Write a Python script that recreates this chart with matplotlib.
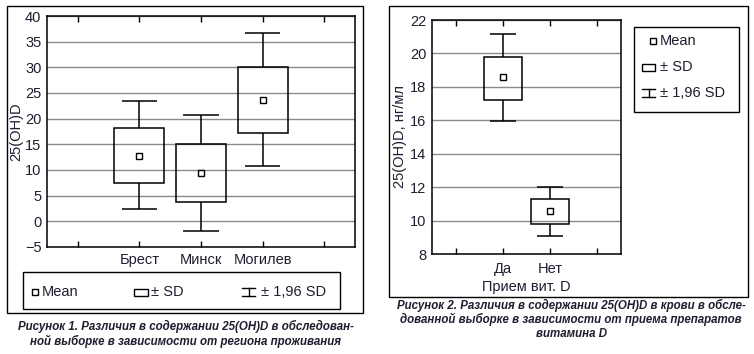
import matplotlib
matplotlib.use("Agg")
import matplotlib.pyplot as plt
from matplotlib.patches import Rectangle
from matplotlib.lines import Line2D

# ---- data ----
regions = ["Брест", "Минск", "Могилев"]
reg_mean = [12.7, 9.4, 23.7]
reg_sd_lo = [7.45, 3.75, 17.2]
reg_sd_hi = [18.15, 15.0, 30.15]
reg_ci_lo = [2.4, -1.8, 10.8]
reg_ci_hi = [23.4, 20.7, 36.6]
reg_yticks = [-5, 0, 5, 10, 15, 20, 25, 30, 35, 40]

vit = ["Да", "Нет"]
vit_mean = [18.58, 10.57]
vit_sd_lo = [17.22, 9.79]
vit_sd_hi = [19.81, 11.29]
vit_ci_lo = [15.95, 9.08]
vit_ci_hi = [21.15, 12.0]
vit_yticks = [8, 10, 12, 14, 16, 18, 20, 22]

legend_labels = ["Mean", "± SD", "± 1,96 SD"]
cap1 = ["Рисунок 1. Различия в содержании 25(OH)D в обследован-",
        "ной выборке в зависимости от региона проживания"]
cap2 = ["Рисунок 2. Различия в содержании 25(OH)D в крови в обсле-",
        "дованной выборке в зависимости от приема препаратов",
        "витамина D"]

TXT = "#1e1e30"
plt.rcParams['font.family'] = ['Liberation Sans', 'DejaVu Sans']

W, H = 754, 354
fig = plt.figure(figsize=(W / 100, H / 100), dpi=100)


def fx(px):
    return px / W


def fy(py):
    return 1 - py / H


def frame(x0, y0, x1, y1, lw=1.0):
    fig.add_artist(Rectangle((fx(x0), fy(y1)), fx(x1) - fx(x0), fy(y0) - fy(y1),
                             transform=fig.transFigure, fill=False, ec="black", lw=lw))


def boxchart(ax, cats, mean, lo, hi, clo, chi, boxw, capw):
    xs = [i + 2 for i in range(len(cats))]
    for x, m, l, h, cl, ch in zip(xs, mean, lo, hi, clo, chi):
        ax.add_patch(Rectangle((x - boxw / 2, l), boxw, h - l, fill=False, ec="black", lw=1.1, zorder=3))
        ax.vlines(x, h, ch, color="black", lw=1.1, zorder=3)
        ax.vlines(x, cl, l, color="black", lw=1.1, zorder=3)
        ax.hlines([ch, cl], x - capw / 2, x + capw / 2, color="black", lw=1.1, zorder=3)
        ax.plot([x], [m], marker="s", ms=4.2, mfc="white", mec="black", mew=1.0, zorder=4)
    return xs


def style(ax, cats, xs, yticks, nx):
    ax.set_xlim(0.5, nx + 0.5)
    ax.set_ylim(yticks[0], yticks[-1])
    ax.set_yticks(yticks)
    ax.set_xticks(list(range(1, nx + 1)))
    labels = [""] * nx
    for c, x in zip(cats, xs):
        labels[x - 1] = c
    ax.set_xticklabels(labels)
    ax.tick_params(axis="x", direction="in", top=True, bottom=True, length=4, width=1, pad=4,
                   labelsize=10.5, labelcolor=TXT)
    ax.tick_params(axis="y", length=0, pad=4, labelsize=10.5, labelcolor=TXT)
    ax.grid(axis="y", color="#8a8a8a", lw=1.0, zorder=1)
    ax.set_axisbelow(True)
    for s in ax.spines.values():
        s.set_linewidth(1.1)


# ---- panel 1 ----
ax1 = fig.add_axes([fx(47), fy(247), fx(355) - fx(47), fy(16) - fy(247)])
xs1 = boxchart(ax1, regions, reg_mean, reg_sd_lo, reg_sd_hi, reg_ci_lo, reg_ci_hi, 0.81, 0.58)
style(ax1, regions, xs1, reg_yticks, 5)
ax1.set_ylabel("25(OH)D", fontsize=10.5, color=TXT, labelpad=1)

frame(7, 6, 363, 313)
frame(23, 272, 340, 309)

# legend 1 (horizontal)
ly = 292
fig.add_artist(Line2D([fx(35)], [fy(ly)], marker="s", ms=4.2, mfc="white", mec="black", mew=1.0,
                      transform=fig.transFigure))
fig.text(fx(42), fy(ly), legend_labels[0], fontsize=10.5, color=TXT, va="center")
fig.add_artist(Rectangle((fx(134), fy(ly + 3.5)), fx(148) - fx(134), fy(ly - 3.5) - fy(ly + 3.5),
                         transform=fig.transFigure, fill=False, ec="black", lw=1.0))
fig.text(fx(151), fy(ly), legend_labels[1], fontsize=10.5, color=TXT, va="center")
fig.add_artist(Line2D([fx(242), fx(255)], [fy(ly - 4)] * 2, color="black", lw=1.0, transform=fig.transFigure))
fig.add_artist(Line2D([fx(242), fx(255)], [fy(ly + 4)] * 2, color="black", lw=1.0, transform=fig.transFigure))
fig.add_artist(Line2D([fx(248.5), fx(248.5)], [fy(ly - 4), fy(ly + 4)], color="black", lw=1.0,
                      transform=fig.transFigure))
fig.text(fx(261), fy(ly), legend_labels[2], fontsize=10.5, color=TXT, va="center")

# ---- panel 2 ----
ax2 = fig.add_axes([fx(432), fy(254), fx(621) - fx(432), fy(20) - fy(254)])
xs2 = boxchart(ax2, vit, vit_mean, vit_sd_lo, vit_sd_hi, vit_ci_lo, vit_ci_hi, 0.8, 0.54)
style(ax2, vit, xs2, vit_yticks, 4)
ax2.tick_params(axis="x", pad=6)
ax2.set_ylabel("25(OH)D, нг/мл", fontsize=10.5, color=TXT, labelpad=2)
ax2.set_xlabel("Прием вит. D", fontsize=10.5, color=TXT, labelpad=3)

frame(389, 6, 748, 297)
frame(634, 27, 739, 112)

# legend 2 (vertical)
fig.add_artist(Line2D([fx(653)], [fy(41)], marker="s", ms=4.2, mfc="white", mec="black", mew=1.0,
                      transform=fig.transFigure))
fig.text(fx(660), fy(41), legend_labels[0], fontsize=10.5, color=TXT, va="center")
fig.add_artist(Rectangle((fx(642), fy(70.5)), fx(655) - fx(642), fy(63.5) - fy(70.5),
                         transform=fig.transFigure, fill=False, ec="black", lw=1.0))
fig.text(fx(660), fy(67), legend_labels[1], fontsize=10.5, color=TXT, va="center")
fig.add_artist(Line2D([fx(642), fx(655)], [fy(89)] * 2, color="black", lw=1.0, transform=fig.transFigure))
fig.add_artist(Line2D([fx(642), fx(655)], [fy(97)] * 2, color="black", lw=1.0, transform=fig.transFigure))
fig.add_artist(Line2D([fx(648.5), fx(648.5)], [fy(89), fy(97)], color="black", lw=1.0,
                      transform=fig.transFigure))
fig.text(fx(660), fy(93), legend_labels[2], fontsize=10.5, color=TXT, va="center")

# ---- captions (one text per line, 14.5 px line pitch) ----
capfont = dict(fontsize=8.3, fontweight="bold", fontstyle="italic", color=TXT,
               family=["Liberation Sans", "DejaVu Sans"], ha="center", va="center")
for i, line in enumerate(cap1):
    fig.text(fx(186), fy(326 + 15 * i), line, **capfont)
for i, line in enumerate(cap2):
    fig.text(fx(571), fy(305 + 14.5 * i), line, **capfont)

fig.savefig("out.png", dpi=100)
